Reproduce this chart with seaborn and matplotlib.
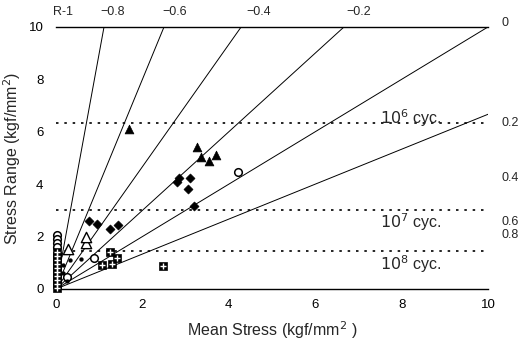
import numpy as np
import pandas as pd
import matplotlib
matplotlib.use("Agg")
import matplotlib.pyplot as plt
import seaborn as sns

# stress ratios drawn as lines from origin, and labels along the edges
r_lines = [-0.8, -0.6, -0.4, -0.2, 0.0, 0.2]
top_labels = ["R-1", "\u22120.8", "\u22120.6", "\u22120.4", "\u22120.2"]
top_label_x = [0.17, 1.3, 2.75, 4.7, 7.0]
right_labels = ["0", "0.2", "0.4", "0.6", "0.8"]
right_label_y = [10.15, 6.35, 4.25, 2.55, 2.07]

# fatigue limit levels
cyc_levels = [6.35, 3.0, 1.45]
cyc_labels = ["$10^6$ cyc.", "$10^7$ cyc.", "$10^8$ cyc."]
cyc_label_y = [6.5, 2.55, 0.95]

# data points by symbol
tri_x = [1.69, 3.26, 3.36, 3.54, 3.70]
tri_y = [6.10, 5.42, 5.04, 4.89, 5.11]
dia_x = [2.85, 2.80, 3.10, 3.05, 3.19, 0.76, 0.95, 1.25, 1.43]
dia_y = [4.24, 4.10, 4.24, 3.82, 3.17, 2.60, 2.48, 2.29, 2.44]
circ_x = [4.21, 0.88, 0.25, 0.02, 0.02, 0.02, 0.02]
circ_y = [4.47, 1.18, 0.44, 2.05, 1.90, 1.75, 1.60]
otri_x = [0.28, 0.69, 0.69]
otri_y = [1.53, 1.76, 1.98]
sq_x = [1.25, 1.41, 1.06, 1.30, 2.48, 0.02, 0.02, 0.02, 0.02, 0.02, 0.02, 0.02, 0.02, 0.02, 0.02]
sq_y = [1.41, 1.18, 0.92, 0.95, 0.88, 1.40, 1.25, 1.10, 0.95, 0.80, 0.65, 0.50, 0.35, 0.20, 0.05]
dot_x = [0.32, 0.58, 0.15, 0.15, 0.25, 0.10]
dot_y = [1.10, 1.14, 0.90, 0.60, 0.30, 1.30]

sns.set_style("white")
plt.rcParams["font.family"] = ["Liberation Sans", "DejaVu Sans"]

fig = plt.figure(figsize=(5.26, 3.49), dpi=100)
ax = fig.add_axes([0.1065, 0.172, 0.8215, 0.751])

# constant-R lines: range / mean = (1-R)/(1+R)
for r in r_lines:
    k = (1 - r) / (1 + r)
    xe = min(10, 10 / k)
    ax.plot([0, xe], [0, k * xe], color="black", lw=0.7)

for lvl in cyc_levels:
    ax.plot([0, 10], [lvl, lvl], color="black", lw=1.2, ls=(0, (1.5, 3.5)))
for lab, yy in zip(cyc_labels, cyc_label_y):
    ax.text(8.2, yy, lab, ha="center", va="center", fontsize=11.5)

for lab, xx in zip(top_labels, top_label_x):
    ax.text(xx, 10.55, lab, ha="center", va="center", fontsize=9, clip_on=False)
for lab, yy in zip(right_labels, right_label_y):
    ax.text(10.3, yy, lab, ha="left", va="center", fontsize=9, clip_on=False)

kw = dict(ax=ax, legend=False, clip_on=False, zorder=5)
sns.scatterplot(x=tri_x, y=tri_y, marker="^", s=40, color="black", edgecolor="black", **kw)
sns.scatterplot(x=dia_x, y=dia_y, marker="D", s=22, color="black", edgecolor="black", **kw)
sns.scatterplot(x=circ_x, y=circ_y, marker="o", s=30, facecolor="white", edgecolor="black", linewidth=1.1, **kw)
sns.scatterplot(x=otri_x, y=otri_y, marker="^", s=55, facecolor="white", edgecolor="black", linewidth=1.0, **kw)
sns.scatterplot(x=sq_x, y=sq_y, marker="s", s=36, color="black", edgecolor="black", **kw)
sns.scatterplot(x=sq_x, y=sq_y, marker="+", s=16, color="white", linewidth=1.0, ax=ax, legend=False, clip_on=False, zorder=6)
sns.scatterplot(x=dot_x, y=dot_y, marker="o", s=8, color="black", edgecolor="black", **kw)

ax.set_xlim(0, 10)
ax.set_ylim(0, 10)
ax.set_xticks([0, 2, 4, 6, 8, 10])
ax.set_yticks([0, 2, 4, 6, 8, 10])
ax.tick_params(direction="in", length=3, width=0.8, labelsize=9.5, pad=7, colors="black")
ax.tick_params(axis="y", pad=9)
for side in ["left", "right"]:
    ax.spines[side].set_visible(False)
for side in ["top", "bottom"]:
    ax.spines[side].set_color("black")
    ax.spines[side].set_linewidth(1.0)
ax.set_xlabel("Mean Stress (kgf/mm$^2$ )", fontsize=11.5, labelpad=6)
ax.set_ylabel("Stress Range (kgf/mm$^2$)", fontsize=11.5, labelpad=4)

fig.savefig("out.png", dpi=100)
